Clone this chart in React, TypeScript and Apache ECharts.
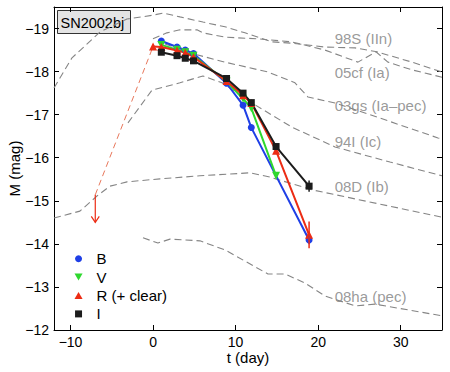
import React, { useEffect, useRef } from "react";
import * as echarts from "echarts";

// ---- Observed SN2002bj photometry ----
const B_T = [1, 2.9, 3.9, 4.9, 8.9, 10.9, 11.9, 18.9];
const B_M = [-18.71, -18.57, -18.5, -18.42, -17.73, -17.22, -16.7, -14.09];
const V_T = [1, 2.9, 3.9, 4.9, 8.9, 10.9, 11.9, 14.9];
const V_M = [-18.62, -18.51, -18.45, -18.37, -17.77, -17.37, -17.15, -15.58];
const R_T = [0, 1, 2.9, 3.9, 4.9, 8.9, 10.9, 11.9, 14.9, 18.9];
const R_M = [-18.58, -18.57, -18.49, -18.44, -18.34, -17.78, -17.45, -17.27, -16.16, -14.21];
const I_T = [1, 2.9, 3.9, 4.9, 8.9, 10.9, 11.9, 14.9, 18.9];
const I_M = [-18.45, -18.37, -18.31, -18.25, -17.84, -17.5, -17.28, -16.26, -15.34];

// error bars (t, mag, half-size)
const ERR_T = [18.9, 18.9, 18.9];
const ERR_M = [-14.09, -14.21, -15.34];
const ERR_E = [0.1, 0.31, 0.13];
const ERR_BAND = ["B", "R", "I"];

// pre-discovery upper limit
const LIMIT_T = [-7];
const LIMIT_M = [-15.14];
const LIMIT_ARROW = [0.64];

// ---- Comparison templates ----
const S98_T = [-12, -9.82, -6.43, -3.16, -0.01, 1.2, 3.26, 6.04, 8.71, 11.13, 14.4, 16.82, 20.82, 24.46, 27.12, 31.36, 35];
const S98_M = [-17.62, -18.32, -18.92, -19.22, -19.31, -19.36, -19.27, -19.15, -19.04, -18.9, -18.69, -18.66, -18.57, -18.55, -18.46, -18.22, -17.99];
const CF05_T = [-0.01, 1.68, 3.26, 5.32, 6.04, 8.71, 12.71, 16.82, 20.82, 24.82, 27.0, 28.45, 31.36, 35];
const CF05_M = [-18.76, -18.9, -18.97, -18.97, -18.9, -18.8, -18.76, -18.69, -18.5, -18.22, -18.46, -18.22, -18.04, -17.87];
const GS03_T = [1.44, 5.32, 8.71, 13.92, 17.19, 18.77, 22.04, 27.49, 34.51, 35];
const GS03_M = [-18.64, -18.39, -18.22, -17.99, -17.74, -17.41, -17.27, -16.92, -16.46, -16.44];
const I94_T = [-3.04, -0.13, 3.26, 6.04, 8.35, 11.98, 16.83, 22.04, 28.7, 35];
const I94_M = [-16.81, -17.57, -17.74, -17.9, -17.74, -17.27, -16.71, -16.25, -15.9, -15.58];
const D08_T = [-12, -8.86, -6.8, -5.22, -3.16, 0.84, 5.68, 11.74, 14.16, 19.37, 35];
const D08_M = [-14.6, -14.76, -15.11, -15.34, -15.44, -15.51, -15.58, -15.65, -15.55, -15.25, -14.62];
const HA08_T = [-1.22, 0.59, 2.05, 5.68, 8.71, 13.92, 15.98, 18.41, 20.83, 24.46, 26.88, 35];
const HA08_M = [-14.14, -14.02, -14.11, -14.07, -13.86, -13.3, -13.3, -13.09, -12.79, -12.56, -12.6, -12.33];

const TEMPLATE_NAMES = ["98S (IIn)", "05cf (Ia)", "03gs (Ia\u2013pec)", "94I (Ic)", "08D (Ib)", "08ha (pec)"];
const LABEL_T = [22, 22, 22, 22, 22, 22];
const LABEL_M = [-18.78, -17.99, -17.22, -16.38, -15.34, -12.78];

const X_TICKS = [-10, 0, 10, 20, 30];
const Y_TICKS = [-19, -18, -17, -16, -15, -14, -13, -12];

const COLORS: Record<string, string> = {
  B: "#1f3fe6",
  V: "#2fd82f",
  R: "#ec2c14",
  I: "#1c1c1c",
};

const zip = (a: number[], b: number[]) => a.map((v, i) => [v, b[i]]);
const fmt = (v: number) => String(v).replace("-", "\u2212");
const FONT = "'Liberation Sans', Arial, Helvetica, sans-serif";

export default function App() {
  const ref = useRef<HTMLDivElement>(null);
  useEffect(() => {
    document.body.style.margin = "0";
    if (!ref.current) return;
    const chart = echarts.init(ref.current, undefined, { renderer: "svg" });

    const templates = [
      [S98_T, S98_M],
      [CF05_T, CF05_M],
      [GS03_T, GS03_M],
      [I94_T, I94_M],
      [D08_T, D08_M],
      [HA08_T, HA08_M],
    ];

    const templateSeries = templates.map(([t, m], i) => ({
      type: "line",
      name: "tpl" + i,
      data: zip(t, m),
      symbol: "none",
      silent: true,
      z: 1,
      lineStyle: { color: "#858585", width: 1.1, type: [7, 4] },
    }));

    const bandSeries = (name: string, key: string, t: number[], m: number[], symbol: string, size: number, rotate = 0) => ({
      type: "line",
      name,
      data: zip(t, m),
      symbol,
      symbolSize: size,
      symbolRotate: rotate,
      showSymbol: true,
      z: 5,
      itemStyle: { color: COLORS[key] },
      lineStyle: { color: COLORS[key], width: 2 },
    });

    const axisCommon = {
      type: "value",
      axisLine: { show: true, onZero: false, lineStyle: { color: "#000", width: 1 } },
      splitLine: { show: false },
    };

    const option: any = {
      animation: false,
      backgroundColor: "#fff",
      textStyle: { fontFamily: FONT },
      grid: { left: 54, right: 8, top: 7, bottom: 42, containLabel: false, outerBoundsMode: "none" },
      xAxis: [
        {
          ...axisCommon,
          min: -12,
          max: 35,
          position: "bottom",
          axisTick: { inside: true, length: 5, customValues: X_TICKS, lineStyle: { color: "#000" } },
          axisLabel: { customValues: X_TICKS, formatter: fmt, color: "#000", fontSize: 14, margin: 5, fontFamily: FONT },
          name: "t (day)",
          nameLocation: "middle",
          nameGap: 20,
          nameMoveOverlap: false,
          nameTextStyle: { fontSize: 15, color: "#000", fontFamily: FONT },
        },
        {
          ...axisCommon,
          min: -12,
          max: 35,
          position: "top",
          axisTick: { inside: true, length: 5, customValues: X_TICKS, lineStyle: { color: "#000" } },
          axisLabel: { show: false },
        },
      ],
      yAxis: [
        {
          ...axisCommon,
          min: -19.5,
          max: -12,
          inverse: true,
          position: "left",
          axisTick: { inside: true, length: 5, customValues: Y_TICKS, lineStyle: { color: "#000" } },
          axisLabel: { customValues: Y_TICKS, formatter: fmt, color: "#000", fontSize: 14, margin: 5, fontFamily: FONT },
          name: "M (mag)",
          nameLocation: "middle",
          nameGap: 32,
          nameMoveOverlap: false,
          nameTextStyle: { fontSize: 15, color: "#000", fontFamily: FONT },
        },
        {
          ...axisCommon,
          min: -19.5,
          max: -12,
          inverse: true,
          position: "right",
          axisTick: { inside: true, length: 5, customValues: Y_TICKS, lineStyle: { color: "#000" } },
          axisLabel: { show: false },
        },
      ],
      legend: {
        orient: "vertical",
        left: 74.5,
        top: 249.7,
        padding: 0,
        itemWidth: 26,
        itemHeight: 7,
        itemGap: 0.4,
        textStyle: { fontSize: 15, color: "#000", lineHeight: 18, fontFamily: FONT },
        data: [
          { name: "B", icon: "path://M5,0A5,5,0,1,1,4.99,0Z" },
          { name: "V", icon: "path://M0,0L10,0L5,8.66Z" },
          { name: "R (+ clear)", icon: "path://M5,0L10,8.66L0,8.66Z" },
          { name: "I", icon: "path://M0,0L10,0L10,10L0,10Z" },
        ],
      },
      graphic: [
        {
          type: "group",
          left: 57,
          top: 10,
          children: [
            { type: "rect", shape: { x: 0, y: 0, width: 73, height: 23 }, style: { fill: "#e4e4e4", stroke: "#333", lineWidth: 1 } },
            { type: "text", x: 3, y: 12, style: { text: "SN2002bj", fontSize: 14.5, fill: "#000", fontFamily: FONT, verticalAlign: "middle" } },
          ],
        },
      ],
      series: [
        ...templateSeries,
        {
          type: "scatter",
          name: "labels",
          data: zip(LABEL_T, LABEL_M),
          symbolSize: 0,
          silent: true,
          z: 2,
          label: {
            show: true,
            position: "right",
            distance: 0,
            color: "#808080",
            fontSize: 15,
            fontFamily: FONT,
            formatter: (p: any) => TEMPLATE_NAMES[p.dataIndex],
          },
        },
        {
          type: "line",
          name: "limitline",
          data: [
            [LIMIT_T[0], LIMIT_M[0]],
            [R_T[0], R_M[0]],
          ],
          symbol: "none",
          z: 3,
          lineStyle: { color: "#e8785c", width: 1, type: [6, 4] },
        },
        {
          type: "custom",
          name: "limitarrow",
          z: 4,
          data: LIMIT_T.map((t, i) => [t, LIMIT_M[i], LIMIT_M[i] + LIMIT_ARROW[i]]),
          encode: { x: 0, y: [1, 2] },
          renderItem: (_p: any, api: any) => {
            const a = api.coord([api.value(0), api.value(1)]);
            const b = api.coord([api.value(0), api.value(2)]);
            return {
              type: "group",
              children: [
                { type: "line", shape: { x1: a[0], y1: a[1], x2: b[0], y2: b[1] }, style: { stroke: COLORS.R, lineWidth: 1.2 } },
                {
                  type: "polyline",
                  shape: { points: [[b[0] - 4, b[1] - 6], [b[0], b[1]], [b[0] + 4, b[1] - 6]] },
                  style: { stroke: COLORS.R, lineWidth: 1.2, fill: "none" },
                },
              ],
            };
          },
        },
        {
          type: "custom",
          name: "errors",
          z: 6,
          data: ERR_T.map((t, i) => [t, ERR_M[i] - ERR_E[i], ERR_M[i] + ERR_E[i]]),
          encode: { x: 0, y: [1, 2] },
          renderItem: (p: any, api: any) => {
            const a = api.coord([api.value(0), api.value(1)]);
            const b = api.coord([api.value(0), api.value(2)]);
            return {
              type: "line",
              shape: { x1: a[0], y1: a[1], x2: b[0], y2: b[1] },
              style: { stroke: COLORS[ERR_BAND[p.dataIndex]], lineWidth: 1.5 },
            };
          },
        },
        bandSeries("B", "B", B_T, B_M, "circle", 7),
        bandSeries("V", "V", V_T, V_M, "triangle", 8, 180),
        bandSeries("R (+ clear)", "R", R_T, R_M, "triangle", 8),
        bandSeries("I", "I", I_T, I_M, "rect", 7),
      ],
    };

    chart.setOption(option);
    return () => chart.dispose();
  }, []);

  return <div ref={ref} style={{ width: 450, height: 372 }} />;
}
